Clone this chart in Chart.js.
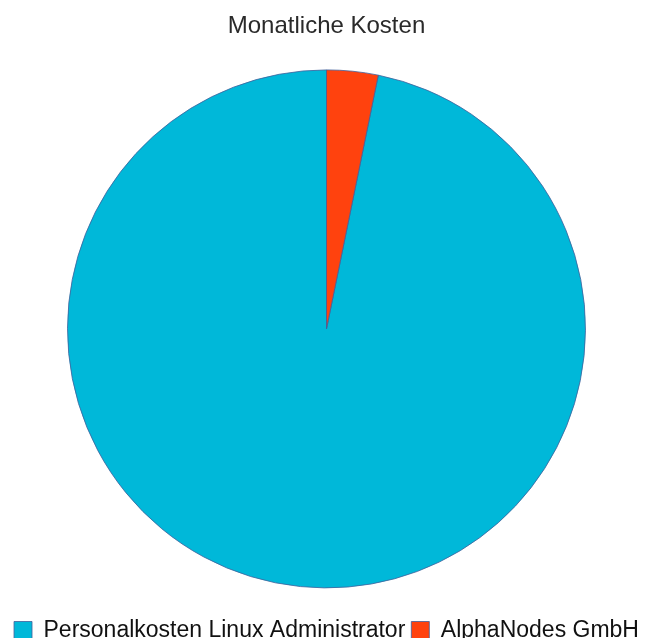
<!DOCTYPE html>
<html>
<head>
<meta charset="utf-8">
<script src="https://cdn.jsdelivr.net/npm/chart.js@4/dist/chart.umd.min.js"></script>
<style>
  html, body { margin: 0; padding: 0; background: #fff; overflow: hidden; }
  /* the legend in the original is clipped at the bottom edge, so the canvas runs a bit past the window */
  #wrap { width: 645px; height: 652px; }
</style>
</head>
<body>
<div id="wrap"><canvas id="costChart"></canvas></div>
<script>
const categories = ['Personalkosten Linux Administrator', 'AlphaNodes GmbH'];
const monthlyCosts = [4500, 149];
const sliceColors = ['#00b8d9', '#ff420e'];

// LibreOffice starts the first slice at the top going counter-clockwise,
// so turn the pie until the small slice sits just right of 12 o'clock
const total = monthlyCosts.reduce((a, b) => a + b, 0);
const startAngle = monthlyCosts[1] / total * 360;

new Chart(document.getElementById('costChart'), {
  type: 'pie',
  data: {
    labels: categories,
    datasets: [{
      data: monthlyCosts,
      backgroundColor: sliceColors,
      borderColor: '#41609a',
      borderWidth: 0.8
    }]
  },
  options: {
    responsive: true,
    maintainAspectRatio: false,
    animation: false,
    rotation: startAngle,
    radius: 259,
    layout: { padding: { top: 0, bottom: 0, left: 8, right: 0 } },
    plugins: {
      title: {
        display: true,
        text: 'Monatliche Kosten',
        color: '#2a2a2a',
        font: { family: 'Liberation Sans', size: 24, weight: 'normal' },
        padding: { top: 12, bottom: 4 }
      },
      legend: {
        position: 'bottom',
        labels: {
          color: '#111',
          font: { family: 'Liberation Sans', size: 23 },
          boxWidth: 18,
          boxHeight: 18,
          padding: 6
        }
      },
      tooltip: { enabled: false }
    }
  }
});
</script>
</body>
</html>
